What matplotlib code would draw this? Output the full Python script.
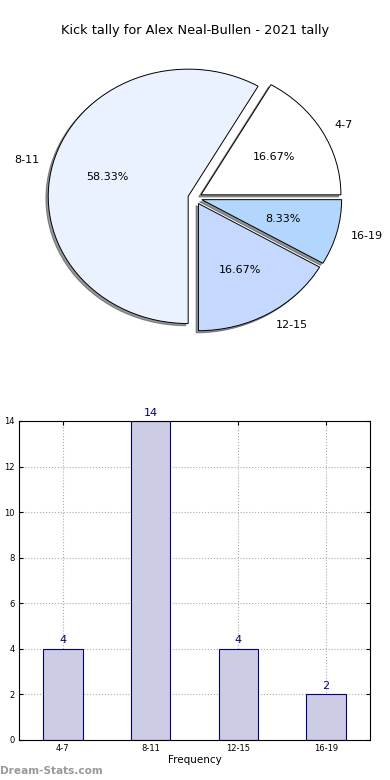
import matplotlib
matplotlib.use("Agg")
import matplotlib.pyplot as plt

categories = ["4-7", "8-11", "12-15", "16-19"]
counts = [4, 14, 4, 2]
pie_colors = ["#FFFFFF", "#EAF1FF", "#C5D8FF", "#B3D6FF"]
explode = [0.05, 0.05, 0.05, 0.05]
title = "Kick tally for Alex Neal-Bullen - 2021 tally"


def main():
    fig = plt.figure(figsize=(3.9, 7.8), dpi=100)

    # pie on top (old style, not equal aspect)
    ax1 = fig.add_axes([0.0513, 0.5423, 0.897, 0.4077])
    wedges, texts, autotexts = ax1.pie(
        counts, labels=categories, colors=pie_colors, explode=explode,
        autopct="%1.2f%%", shadow={"ox": -0.012, "oy": -0.012, "shade": 0.8},
        startangle=0,
        wedgeprops={"edgecolor": "black", "linewidth": 0.7},
        textprops={"fontsize": 8},
    )
    ax1.set_aspect("auto")
    ax1.set_xlim(-1.25, 1.25)
    ax1.set_ylim(-1.25, 1.25)
    fig.text(0.5, 0.961, title, ha="center", va="center", fontsize=9.3)

    # bar chart below
    ax2 = fig.add_axes([0.0487, 0.0513, 0.9, 0.409])
    xs = list(range(len(categories)))
    ax2.bar(xs, counts, width=0.45, color="#CCCCE5",
            edgecolor="#000080", linewidth=0.8, zorder=2)
    for x, v in zip(xs, counts):
        ax2.text(x, v + 0.15, str(v), ha="center", va="bottom",
                 color="#000080", fontsize=8)
    ax2.set_xlim(-0.5, 3.5)
    ax2.set_ylim(0, 14)
    ax2.set_yticks(range(0, 15, 2))
    ax2.set_xticks(xs)
    ax2.set_xticklabels(categories)
    ax2.tick_params(labelsize=6, direction="in", top=True, right=True,
                    length=3, pad=3)
    ax2.grid(True, linestyle=":", color="#aaaaaa", linewidth=0.8, zorder=0)
    ax2.set_xlabel("Frequency", fontsize=7.5, labelpad=1)
    ax2.set_ylabel("Kick Intervals", fontsize=7.5)
    ax2.yaxis.set_label_coords(-0.075, 0.5)

    fig.text(0.0, 0.012, "Dream-Stats.com", fontsize=7.6, color="#999999",
             fontweight="bold", ha="left", va="center")

    fig.savefig("out.png", dpi=100)


if __name__ == "__main__":
    main()
